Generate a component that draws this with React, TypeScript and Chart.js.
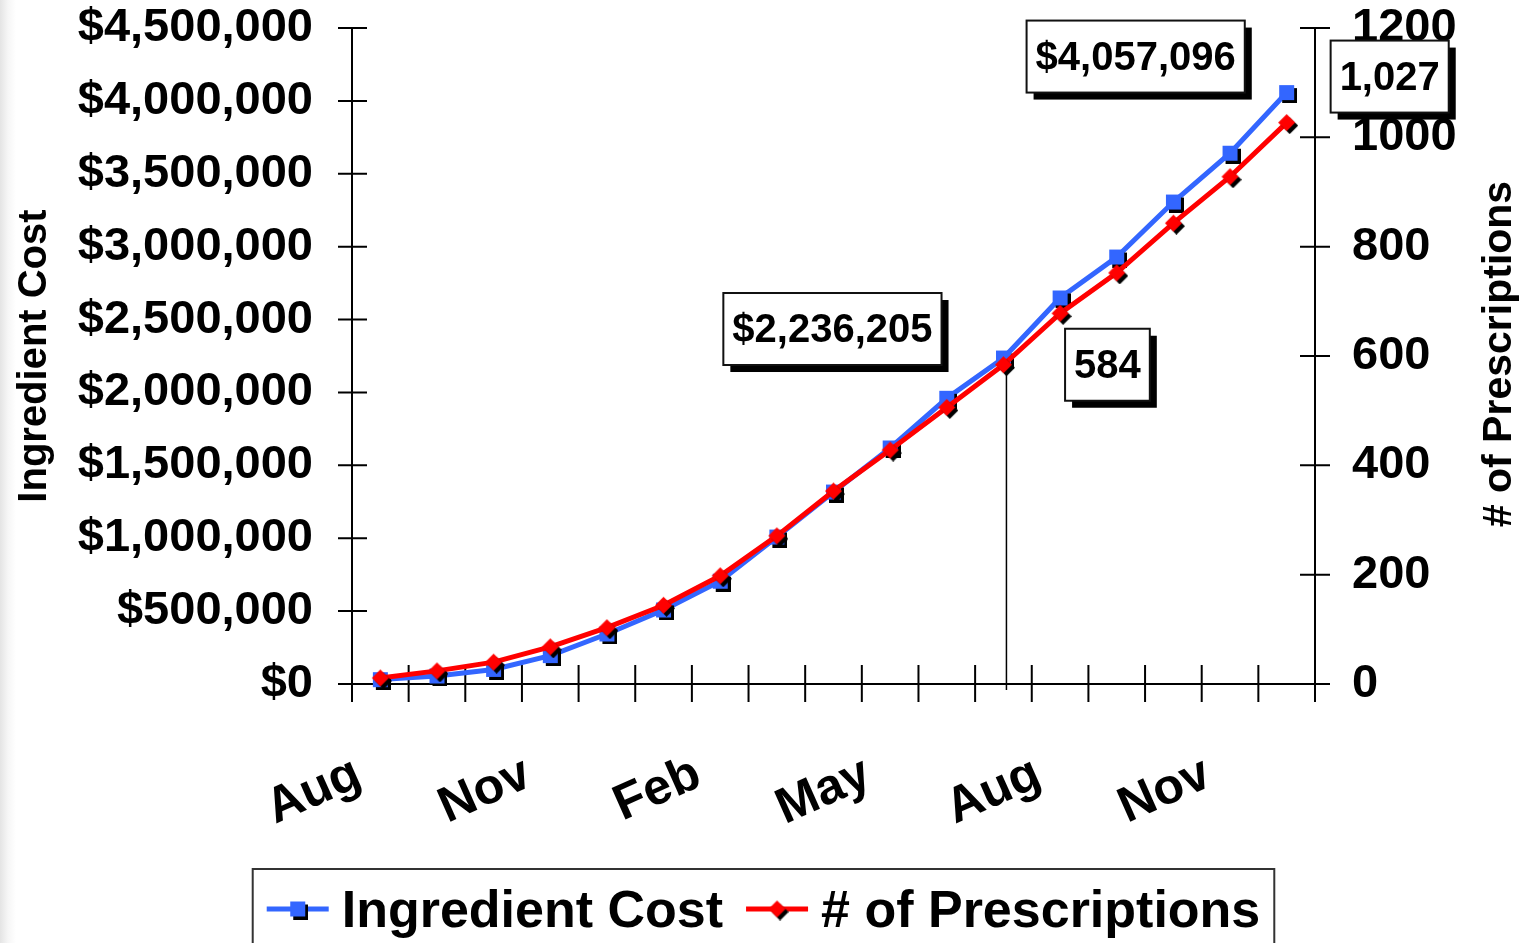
import React, { useEffect, useRef } from "react";
import { Chart, registerables } from "chart.js";

Chart.register(...registerables);

// ---------- data ----------
const months = ["Aug", "Sep", "Oct", "Nov", "Dec", "Jan", "Feb", "Mar", "Apr", "May", "Jun", "Jul", "Aug", "Sep", "Oct", "Nov", "Dec"];
const monthLabelEvery = 3;
const ingredientCost = [30000, 55000, 100000, 195000, 343000, 508000, 705000, 1008000, 1317000, 1619000, 1960000, 2236205, 2648000, 2929000, 3306000, 3641000, 4057096];
const prescriptions = [11, 24, 40, 68, 103, 144, 198, 271, 353, 428, 506, 584, 678, 752, 843, 928, 1027];
const seriesNames = ["Ingredient Cost", "# of Prescriptions"];
const axisTitles = ["Ingredient Cost", "# of Prescriptions"];
const costAxisRange = [0, 4500000, 500000];
const rxAxisRange = [0, 1200, 200];
const calloutDatasets = [0, 1, 0, 1];
const calloutIndexes = [11, 11, 16, 16];
const dropLineIndex = 11;

// ---------- styles ----------
const FONT = '"Liberation Sans", Arial, Helvetica, sans-serif';
const BLUE = "#3366ff";
const RED = "#ff0000";
const calloutOffsets = [
  [-171, -29],
  [104, 0],
  [-151, -36],
  [103, -46],
];

const fmtCost = (v: number) => "$" + Math.round(v).toLocaleString("en-US");
const fmtRx = (v: number) => Math.round(v).toLocaleString("en-US");

function makeMarker(kind: "square" | "diamond", color: string): HTMLCanvasElement {
  const half = kind === "square" ? 7.5 : 8.5;
  const off = 3;
  const size = Math.ceil(2 * (half + off));
  const c = document.createElement("canvas");
  c.width = size;
  c.height = size;
  const g = c.getContext("2d")!;
  const m = size / 2;
  const shape = (dx: number, dy: number) => {
    g.beginPath();
    if (kind === "square") {
      g.rect(m - half + dx, m - half + dy, 2 * half, 2 * half);
    } else {
      g.moveTo(m + dx, m - half + dy);
      g.lineTo(m + half + dx, m + dy);
      g.lineTo(m + dx, m + half + dy);
      g.lineTo(m - half + dx, m + dy);
      g.closePath();
    }
    g.fill();
  };
  g.fillStyle = "#000";
  shape(off, off);
  g.fillStyle = color;
  shape(0, 0);
  return c;
}

export default function App() {
  const ref = useRef<HTMLCanvasElement>(null);

  useEffect(() => {
    const canvas = ref.current!;
    const blueMarker = makeMarker("square", BLUE);
    const redMarker = makeMarker("diamond", RED);
    const markers = [blueMarker, redMarker];
    const colors = [BLUE, RED];

    const decor = {
      id: "decor",
      beforeDatasetsDraw(chart: any) {
        const ctx = chart.ctx as CanvasRenderingContext2D;
        const { left, right, top, bottom } = chart.chartArea;
        const xs = chart.scales.x;
        const y = chart.scales.y;
        const y1 = chart.scales.y1;
        ctx.save();
        ctx.strokeStyle = "#000";
        ctx.lineWidth = 2;
        ctx.lineCap = "butt";
        ctx.beginPath();
        // axes
        ctx.moveTo(left, top);
        ctx.lineTo(left, bottom + 18);
        ctx.moveTo(right, top);
        ctx.lineTo(right, bottom + 18);
        ctx.moveTo(left - 14, bottom);
        ctx.lineTo(right + 15, bottom);
        // y ticks
        y.ticks.forEach((t: any) => {
          const p = y.getPixelForValue(t.value);
          ctx.moveTo(left - 14, p);
          ctx.lineTo(left + 15, p);
        });
        y1.ticks.forEach((t: any) => {
          const p = y1.getPixelForValue(t.value);
          ctx.moveTo(right - 15, p);
          ctx.lineTo(right + 15, p);
        });
        // x ticks at category boundaries
        const n = months.length;
        for (let i = 0; i <= n; i++) {
          let px: number;
          if (i === 0) px = left;
          else if (i === n) px = right;
          else px = (xs.getPixelForValue(i - 1) + xs.getPixelForValue(i)) / 2;
          ctx.moveTo(px, bottom - 19);
          ctx.lineTo(px, bottom + 18);
        }
        ctx.stroke();

        // drop line
        const pt = chart.getDatasetMeta(1).data[dropLineIndex];
        ctx.lineWidth = 1.5;
        ctx.beginPath();
        ctx.moveTo(pt.x + 3, pt.y);
        ctx.lineTo(pt.x + 3, bottom + 6);
        ctx.stroke();

        // x labels
        ctx.fillStyle = "#000";
        ctx.font = `bold 50px ${FONT}`;
        ctx.textAlign = "right";
        ctx.textBaseline = "middle";
        months.forEach((m, i) => {
          if (i % monthLabelEvery !== 0) return;
          const px = xs.getPixelForValue(i);
          ctx.save();
          ctx.translate(px - 22, bottom + 88);
          ctx.rotate((-24 * Math.PI) / 180);
          ctx.fillText(m, 0, 0);
          ctx.restore();
        });

        // axis titles
        ctx.save();
        ctx.font = `bold 40px ${FONT}`;
        ctx.textAlign = "center";
        ctx.textBaseline = "middle";
        ctx.translate(35, 356);
        ctx.rotate(-Math.PI / 2);
        ctx.fillText(axisTitles[0], 0, 0);
        ctx.restore();
        ctx.save();
        ctx.font = `bold 41px ${FONT}`;
        ctx.textAlign = "center";
        ctx.textBaseline = "middle";
        ctx.translate(1500, 354);
        ctx.rotate(-Math.PI / 2);
        ctx.fillText(axisTitles[1], 0, 0);
        ctx.restore();
        ctx.restore();
      },
      afterDraw(chart: any) {
        const ctx = chart.ctx as CanvasRenderingContext2D;
        ctx.save();
        // callouts
        ctx.font = `bold 40px ${FONT}`;
        calloutIndexes.forEach((idx, k) => {
          const ds = calloutDatasets[k];
          const pt = chart.getDatasetMeta(ds).data[idx];
          const value = chart.data.datasets[ds].data[idx] as number;
          const text = ds === 0 ? fmtCost(value) : fmtRx(value);
          const cx = pt.x + calloutOffsets[k][0];
          const cy = pt.y + calloutOffsets[k][1];
          const w = ctx.measureText(text).width + 18;
          const h = 72;
          const x = cx - w / 2;
          const yy = cy - h / 2;
          ctx.fillStyle = "#000";
          ctx.fillRect(x + 7, yy + 7, w, h);
          ctx.fillStyle = "#fff";
          ctx.fillRect(x, yy, w, h);
          ctx.strokeStyle = "#111";
          ctx.lineWidth = 2;
          ctx.strokeRect(x, yy, w, h);
          ctx.fillStyle = "#000";
          ctx.textAlign = "center";
          ctx.textBaseline = "middle";
          ctx.fillText(text, cx, cy + 2);
        });

        // legend
        ctx.font = `bold 52px ${FONT}`;
        const sample = 62;
        const gapText = 13;
        const gapItem = 23;
        const widths = seriesNames.map((s) => ctx.measureText(s).width);
        const total = widths.reduce((a, b) => a + b, 0) + seriesNames.length * (sample + gapText) + gapItem * (seriesNames.length - 1);
        let lx = chart.width / 2 - 3 - total / 2;
        const ly = 909;
        ctx.strokeStyle = "#333";
        ctx.lineWidth = 2;
        ctx.strokeRect(lx - 14, 869, total + 28, 120);
        seriesNames.forEach((s, i) => {
          ctx.strokeStyle = colors[i];
          ctx.lineWidth = 5;
          ctx.beginPath();
          ctx.moveTo(lx, ly);
          ctx.lineTo(lx + sample, ly);
          ctx.stroke();
          const mk = markers[i];
          ctx.drawImage(mk, lx + sample / 2 - mk.width / 2, ly - mk.height / 2);
          lx += sample + gapText;
          ctx.fillStyle = "#000";
          ctx.textAlign = "left";
          ctx.textBaseline = "middle";
          ctx.fillText(s, lx, ly + 4);
          lx += widths[i] + gapItem;
        });
        ctx.restore();
      },
    };

    const tickFont = { family: FONT, size: 47, weight: "bold" as const };

    const chart = new Chart(canvas, {
      type: "line",
      data: {
        labels: months,
        datasets: [
          {
            label: seriesNames[0],
            data: ingredientCost,
            yAxisID: "y",
            borderColor: BLUE,
            backgroundColor: BLUE,
            borderWidth: 5,
            pointStyle: blueMarker as any,
            pointRadius: 8,
            tension: 0,
            order: 1,
            clip: false as any,
          },
          {
            label: seriesNames[1],
            data: prescriptions,
            yAxisID: "y1",
            borderColor: RED,
            backgroundColor: RED,
            borderWidth: 5,
            pointStyle: redMarker as any,
            pointRadius: 8,
            tension: 0,
            order: 0,
            clip: false as any,
          },
        ],
      },
      options: {
        animation: false,
        responsive: true,
        maintainAspectRatio: false,
        events: [],
        layout: { padding: { top: 28, left: 0, right: 0, bottom: 0 } },
        plugins: {
          legend: { display: false },
          tooltip: { enabled: false },
          title: { display: false },
        },
        scales: {
          x: {
            type: "category",
            offset: true,
            grid: { display: false, drawTicks: false },
            border: { display: false },
            ticks: { display: false },
            afterFit(scale: any) {
              scale.height = 259;
              scale.paddingLeft = 0;
              scale.paddingRight = 0;
            },
          },
          y: {
            type: "linear",
            position: "left",
            min: costAxisRange[0],
            max: costAxisRange[1],
            grid: { display: false, drawTicks: false },
            border: { display: false },
            ticks: {
              stepSize: costAxisRange[2],
              autoSkip: false,
              color: "#000",
              font: tickFont,
              padding: 39,
              callback: (v: any) => fmtCost(Number(v)),
            },
            afterFit(scale: any) {
              scale.width = 352;
              scale.paddingTop = 0;
              scale.paddingBottom = 0;
            },
          },
          y1: {
            type: "linear",
            position: "right",
            min: rxAxisRange[0],
            max: rxAxisRange[1],
            grid: { display: false, drawTicks: false },
            border: { display: false },
            ticks: {
              stepSize: rxAxisRange[2],
              autoSkip: false,
              color: "#000",
              font: tickFont,
              padding: 37,
              callback: (v: any) => String(v),
            },
            afterFit(scale: any) {
              scale.width = 218;
              scale.paddingTop = 0;
              scale.paddingBottom = 0;
            },
          },
        },
      },
      plugins: [decor],
    });

    return () => chart.destroy();
  }, []);

  return (
    <div
      style={{
        position: "absolute",
        left: 0,
        top: 0,
        width: 1533,
        height: 943,
        background: "linear-gradient(to right, #e4e4e4 0px, #f6f6f6 8px, #ffffff 16px)",
        overflow: "hidden",
      }}
    >
      <canvas ref={ref} />
    </div>
  );
}
